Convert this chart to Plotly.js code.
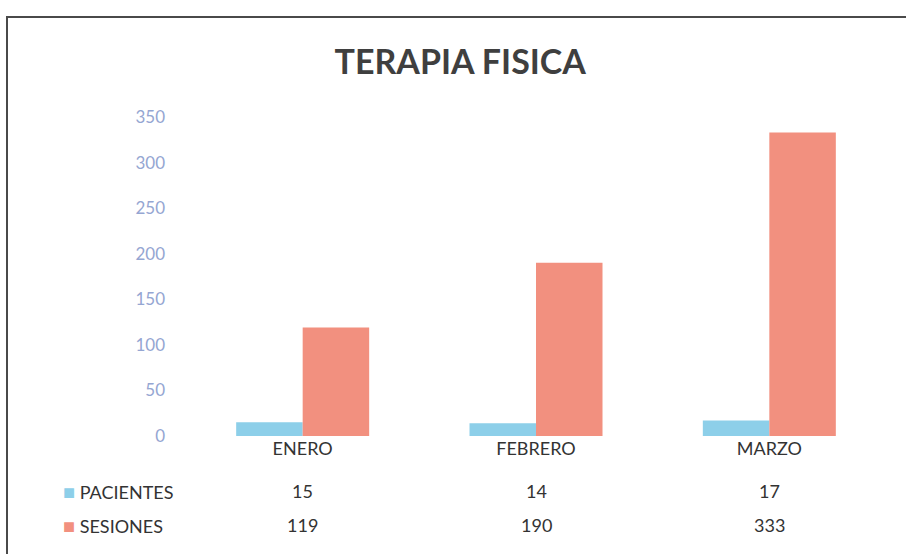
<!DOCTYPE html>
<html>
<head>
<meta charset="utf-8">
<script src="https://cdn.plot.ly/plotly-3.0.1.min.js"></script>
<style>
  html, body { margin: 0; padding: 0; background: #ffffff; }
  #wrap { position: relative; width: 906px; height: 554px; overflow: hidden; }
  #chart { position: absolute; left: 0; top: 0; width: 906px; height: 554px; }
  #frame { position: absolute; left: 6px; top: 16px; width: 910px; height: 536px;
           border-left: 2px solid #4a4a4a; border-top: 2px solid #4a4a4a;
           border-bottom: 1px solid #c8c8c8; pointer-events: none; }
</style>
</head>
<body>
<div id="wrap">
  <div id="chart"></div>
  <div id="frame"></div>
</div>
<script>
const categories = ["ENERO", "FEBRERO", "MARZO"];
const seriesNames = ["PACIENTES", "SESIONES"];
const pacientes = [15, 14, 17];
const sesiones = [119, 190, 333];
const yTicks = [0, 50, 100, 150, 200, 250, 300, 350];

const colors = ["#8dcfe9", "#f2907f"];
const fontFam = "Lato, 'Open Sans', sans-serif";
const textColor = "#333333";

const traces = [
  { type: "bar", name: seriesNames[0], x: categories, y: pacientes,
    marker: { color: colors[0] }, hoverinfo: "x+y+name" },
  { type: "bar", name: seriesNames[1], x: categories, y: sesiones,
    marker: { color: colors[1] }, hoverinfo: "x+y+name" }
];

const rowY = [-0.172, -0.279];
const seriesValues = [pacientes, sesiones];
const annotations = [];
seriesNames.forEach((nm, r) => {
  annotations.push({
    xref: "paper", yref: "paper", x: -0.178, y: rowY[r],
    xanchor: "left", yanchor: "middle", showarrow: false,
    text: '<span style="color:' + colors[r] + ';font-size:20px">■</span> ' + nm,
    font: { family: fontFam, size: 18, color: textColor }
  });
  categories.forEach((c, i) => {
    annotations.push({
      xref: "x", yref: "paper", x: c, y: rowY[r],
      xanchor: "center", yanchor: "middle", showarrow: false,
      text: String(seriesValues[r][i]),
      font: { family: fontFam, size: 18, color: textColor }
    });
  });
});

const layout = {
  width: 906, height: 554,
  margin: { l: 186, r: 20, t: 117, b: 118 },
  paper_bgcolor: "#ffffff", plot_bgcolor: "#ffffff",
  title: {
    text: "<b>TERAPIA FISICA</b>",
    font: { family: fontFam, size: 34, color: "#3f3f3f" },
    x: 0.508, xref: "container", xanchor: "center",
    y: 0.888, yref: "container", yanchor: "middle"
  },
  showlegend: false,
  barmode: "group", bargap: 0.43, bargroupgap: 0,
  xaxis: {
    type: "category", showgrid: false, zeroline: false, showline: false,
    ticks: "", tickfont: { family: fontFam, size: 18, color: textColor }
  },
  yaxis: {
    range: [0, 350], tickvals: yTicks, showgrid: false, zeroline: false,
    showline: false, ticks: "", ticklabelstandoff: 20,
    tickfont: { family: fontFam, size: 17, color: "#95a6d2" }
  },
  annotations: annotations
};

Plotly.newPlot("chart", traces, layout, { displayModeBar: false, staticPlot: true });
</script>
</body>
</html>
